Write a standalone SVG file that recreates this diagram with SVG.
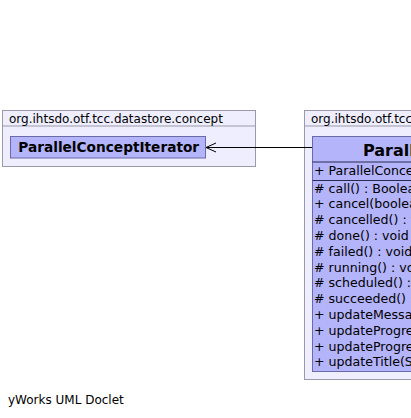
<svg xmlns="http://www.w3.org/2000/svg" width="411" height="418" viewBox="0 0 411 418">
<style>
.pkg{fill:#eeeeff;stroke:#9a9aab;stroke-width:1}
.cls{fill:#b4b4fa;stroke:#6a6aa8;stroke-width:1}
.div{stroke:#2a2a55;stroke-width:1}
text{font-family:"DejaVu Sans","Liberation Sans",sans-serif;fill:#000}
.pl{font-size:12px}
.cn{font-size:13.7px;font-weight:bold}
.ct{font-size:16px;font-weight:bold}
.m{font-size:12.6px}
.edge{stroke:#000;stroke-width:1;fill:none}
</style>
<rect width="411" height="418" fill="#ffffff"/>
<g id="pkg-datastore-concept">
<rect class="pkg" x="2.5" y="110.5" width="253" height="56"/>
<line x1="2.5" y1="126" x2="255.5" y2="126" stroke="#9a9aab"/>
<text class="pl" x="9" y="122.7">org.ihtsdo.otf.tcc.datastore.concept</text>
</g>
<g id="node-ParallelConceptIterator">
<rect class="cls" x="10.5" y="136.5" width="195" height="21.5"/>
<text class="cn" x="18.3" y="152">ParallelConceptIterator</text>
</g>
<g id="pkg-right">
<rect class="pkg" x="304.5" y="110.5" width="300" height="269"/>
<line x1="304.5" y1="126" x2="411" y2="126" stroke="#9a9aab"/>
<text class="pl" x="311" y="122.7">org.ihtsdo.otf.tcc.datastore.concept</text>
</g>
<g id="node-ParallelConceptIterator-task">
<rect class="cls" x="312.5" y="136.5" width="280" height="235"/>
<line class="div" x1="312.5" y1="162" x2="411" y2="162"/>
<line class="div" x1="312.5" y1="180.5" x2="411" y2="180.5"/>
<text class="ct" x="363" y="156">ParallelConceptIterator</text>
<text class="m" x="314" y="175">+ ParallelConceptIterator(...)</text>
<text class="m" x="314" y="192.5"># call() : Boolean</text>
<text class="m" x="314" y="208.3">+ cancel(boolean) : boolean</text>
<text class="m" x="314" y="224.1"># cancelled() : void</text>
<text class="m" x="314" y="239.9"># done() : void</text>
<text class="m" x="314" y="255.7"># failed() : void</text>
<text class="m" x="314" y="271.5"># running() : void</text>
<text class="m" x="314" y="287.3"># scheduled() : void</text>
<text class="m" x="314" y="303.1"># succeeded() : void</text>
<text class="m" x="314" y="318.9">+ updateMessage(String) : void</text>
<text class="m" x="314" y="334.7">+ updateProgress(long,long) : void</text>
<text class="m" x="314" y="350.5">+ updateProgress(double,double) : void</text>
<text class="m" x="314" y="366.3">+ updateTitle(String) : void</text>
</g>
<g id="connectors">
<line class="edge" x1="206" y1="147.5" x2="312" y2="147.5"/>
<polyline class="edge" points="216,143 206,147.5 216,152"/>
</g>
<text class="pl" x="8" y="404">yWorks UML Doclet</text>
</svg>
